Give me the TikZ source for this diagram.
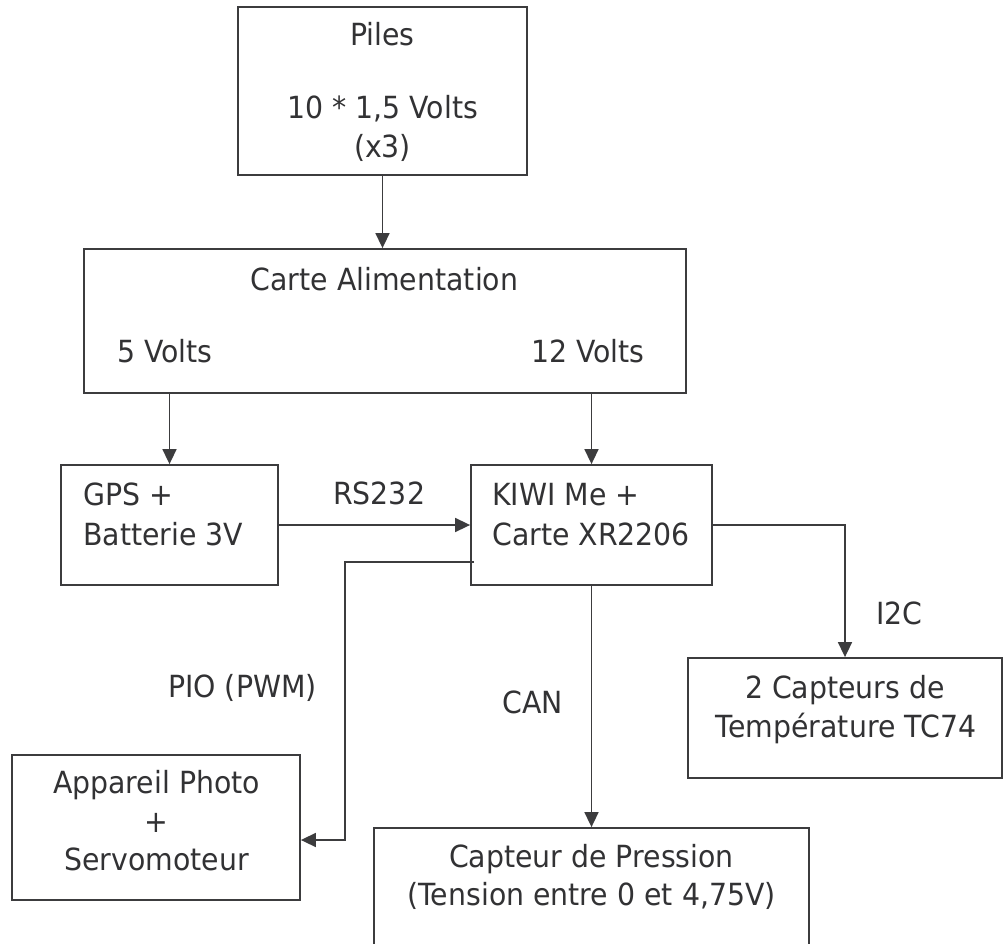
\documentclass[tikz,border=0pt]{standalone}
\usepackage{fontspec}
\setmainfont{DejaVu Sans}[FakeStretch=0.93]
\usetikzlibrary{arrows.meta}
\definecolor{linec}{RGB}{60,60,62}
\definecolor{textc}{RGB}{50,50,52}
\tikzset{
  box/.style={draw=linec, line width=1.8pt, inner sep=0pt, fill=none},
  txt/.style={anchor=base, inner sep=0pt, text=textc, font=\fontsize{30.5}{36}\selectfont},
  txtl/.style={txt, anchor=base west},
  conn/.style={draw=linec, line width=1.6pt, -{Triangle[length=15pt,width=14pt]}},
}
\begin{document}
\begin{tikzpicture}[x=1pt,y=-1pt]
\useasboundingbox (0,0) rectangle (1003,944);
\clip (0,0) rectangle (1003,944);
\fill[white] (0,0) rectangle (1003,944);
% boxes
\node[box, minimum width=289pt, minimum height=168pt] (piles) at (382.5,91) {};
\node[box, minimum width=602pt, minimum height=144pt] (alim) at (385,321) {};
\node[box, minimum width=217pt, minimum height=120pt] (gps) at (169.5,525) {};
\node[box, minimum width=241pt, minimum height=120pt] (kiwi) at (591.5,525) {};
\node[box, minimum width=288pt, minimum height=145pt] (photo) at (156,827.5) {};
\node[box, minimum width=314pt, minimum height=120pt] (temp) at (845,718) {};
\node[box, minimum width=435pt, minimum height=220pt] (pres) at (591.5,938) {};
% texts
\node[txt] (t1) at (382.5,46) {Piles};
\node[txt] (t2) at (382.5,119) {10 * 1,5 Volts};
\node[txt] (t3) at (382.5,158) {(x3)};
\node[txt] (t4) at (384.5,290) {Carte Alimentation};
\node[txtl] (t5) at (117,362) {5 Volts};
\node[txtl] (t6) at (531,362) {12 Volts};
\node[txtl] (t7) at (83,505) {GPS +};
\node[txtl] (t8) at (83,545) {Batterie 3V};
\node[txtl] (t9) at (492,505) {KIWI Me +};
\node[txtl] (t10) at (492,545) {Carte XR2206};
\node[txtl] (l1) at (333,504) {RS232};
\node[txtl] (l2) at (876,624) {I2C};
\node[txtl] (l3) at (168,697) {PIO (PWM)};
\node[txtl] (l4) at (502,713) {CAN};
\node[txt] (t11) at (845,698) {2 Capteurs de};
\node[txt] (t12) at (846,737) {Température TC74};
\node[txt] (t13) at (156.5,793) {Appareil Photo};
\node[txt, anchor=center] (t14) at (156.5,822.5) {+};
\node[txt] (t15) at (156.5,870) {Servomoteur};
\node[txt] (t16) at (591.5,867) {Capteur de Pression};
\node[txt] (t17) at (591.5,905) {(Tension entre 0 et 4,75V)};
% connectors
\coordinate (pio0) at (474,562);
\coordinate (pioA) at (345,562);
\coordinate (pioB) at (345,840);
\draw[conn] (piles.south) -- (piles.south |- alim.north);
\draw[conn] (gps.north |- alim.south) -- (gps.north);
\draw[conn] (kiwi.north |- alim.south) -- (kiwi.north);
\draw[conn] (gps.east) -- (kiwi.west);
\draw[conn] (pio0) -- (pioA) -- (pioB) -- (photo.east |- pioB);
\draw[conn] (kiwi.south) -- (pres.north);
\draw[conn] (kiwi.east) -| (temp.north);
\end{tikzpicture}
\end{document}
